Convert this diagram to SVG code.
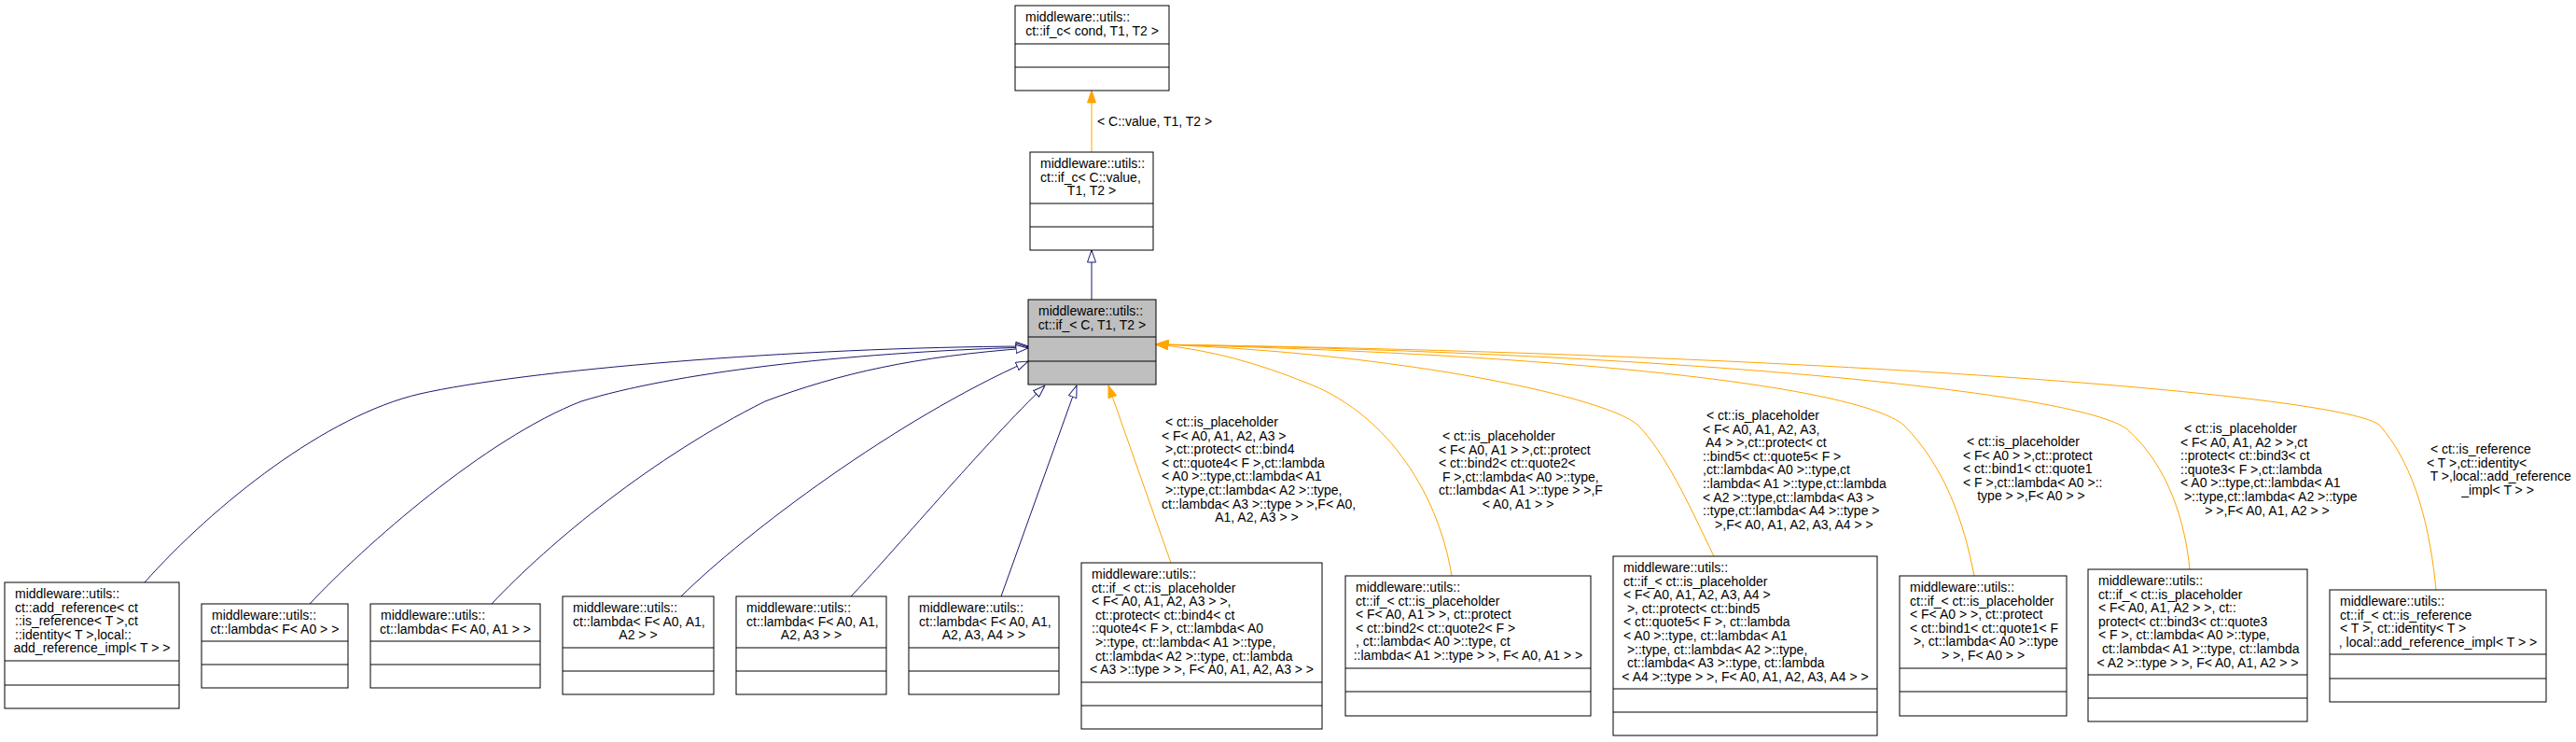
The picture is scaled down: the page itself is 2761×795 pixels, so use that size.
<svg xmlns="http://www.w3.org/2000/svg" width="2761" height="795" viewBox="0 0 2761 795">
<style>
text{font-family:"Liberation Sans",Arial,Helvetica,sans-serif;font-size:14px;fill:#000;white-space:pre}
.m{text-anchor:middle}
.box{fill:#fff;stroke:#000;stroke-width:1}
.cur{fill:#bfbfbf;stroke:#000;stroke-width:1}
.sep{stroke:#000;stroke-width:1}
.inh{fill:none;stroke:#191970;stroke-width:1;marker-end:url(#open)}
.tpl{fill:none;stroke:#ffa500;stroke-width:1;marker-end:url(#filled)}
</style>
<defs>
<marker id="open" viewBox="0 0 14 10" refX="13.5" refY="5" markerWidth="14" markerHeight="10" orient="auto" markerUnits="userSpaceOnUse"><path d="M0.5,0.5 L13.5,5 L0.5,9.5 Z" fill="#fff" stroke="#191970" stroke-width="1"/></marker>
<marker id="filled" viewBox="0 0 14 10" refX="13.5" refY="5" markerWidth="14" markerHeight="10" orient="auto" markerUnits="userSpaceOnUse"><path d="M0.5,0.5 L13.5,5 L0.5,9.5 Z" fill="#ffa500" stroke="#ffa500" stroke-width="1"/></marker>
</defs>
<rect width="2761" height="795" fill="#fff"/>

<g id="connectors">
<g id="e-m-t"><path class="tpl" d="M1170,163 L1170,97"/><text x="1176" y="135">&lt; C::value, T1, T2 &gt;</text></g>
<path id="e-c-m" class="inh" d="M1170,321 L1170,268"/>
<path id="e-n1" class="inh" d="M155,624 C230,540 350,445 450,422 C560,397 850,372 1102,371"/>
<path id="e-n2" class="inh" d="M332,647 C390,585 520,470 623,430 C720,400 900,378 1102,372"/>
<path id="e-n3" class="inh" d="M527,647 C590,580 700,490 820,430 C900,400 980,382 1102,373"/>
<path id="e-n4" class="inh" d="M730,639 C800,570 960,450 1102,387"/>
<path id="e-n5" class="inh" d="M912,639 C950,600 1060,470 1120,413"/>
<path id="e-n6" class="inh" d="M1073,639 L1154,413"/>
<g id="e-n7"><path class="tpl" d="M1255,603 L1188,413"/>
<text x="1245" y="457"> &lt; ct::is_placeholder</text>
<text x="1245" y="471.6">&lt; F&lt; A0, A1, A2, A3 &gt;</text>
<text x="1245" y="486.2"> &gt;,ct::protect&lt; ct::bind4</text>
<text x="1245" y="500.8">&lt; ct::quote4&lt; F &gt;,ct::lambda</text>
<text x="1245" y="515.4">&lt; A0 &gt;::type,ct::lambda&lt; A1</text>
<text x="1245" y="530"> &gt;::type,ct::lambda&lt; A2 &gt;::type,</text>
<text x="1245" y="544.6">ct::lambda&lt; A3 &gt;::type &gt; &gt;,F&lt; A0,</text>
<text class="m" x="1347" y="559.2">A1, A2, A3 &gt; &gt;</text></g>
<g id="e-n8"><path class="tpl" d="M1556,617 C1540,520 1480,440 1400,410 C1350,390 1300,375 1239,369"/>
<text x="1542" y="472"> &lt; ct::is_placeholder</text>
<text x="1542" y="486.6">&lt; F&lt; A0, A1 &gt; &gt;,ct::protect</text>
<text x="1542" y="501.2">&lt; ct::bind2&lt; ct::quote2&lt;</text>
<text x="1542" y="515.8"> F &gt;,ct::lambda&lt; A0 &gt;::type,</text>
<text x="1542" y="530.4">ct::lambda&lt; A1 &gt;::type &gt; &gt;,F</text>
<text class="m" x="1627" y="545">&lt; A0, A1 &gt; &gt;</text></g>
<g id="e-n9"><path class="tpl" d="M1837,596 C1810,540 1785,485 1755,455 C1720,425 1500,378 1239,369"/>
<text x="1825" y="450"> &lt; ct::is_placeholder</text>
<text x="1825" y="464.6">&lt; F&lt; A0, A1, A2, A3,</text>
<text x="1825" y="479.2"> A4 &gt; &gt;,ct::protect&lt; ct</text>
<text x="1825" y="493.8">::bind5&lt; ct::quote5&lt; F &gt;</text>
<text x="1825" y="508.4">,ct::lambda&lt; A0 &gt;::type,ct</text>
<text x="1825" y="523">::lambda&lt; A1 &gt;::type,ct::lambda</text>
<text x="1825" y="537.6">&lt; A2 &gt;::type,ct::lambda&lt; A3 &gt;</text>
<text x="1825" y="552.2">::type,ct::lambda&lt; A4 &gt;::type &gt;</text>
<text class="m" x="1921" y="566.8"> &gt;,F&lt; A0, A1, A2, A3, A4 &gt; &gt;</text></g>
<g id="e-n10"><path class="tpl" d="M2116,617 C2105,560 2085,500 2040,455 C1990,415 1700,380 1239,369"/>
<text x="2104" y="478"> &lt; ct::is_placeholder</text>
<text x="2104" y="492.6">&lt; F&lt; A0 &gt; &gt;,ct::protect</text>
<text x="2104" y="507.2">&lt; ct::bind1&lt; ct::quote1</text>
<text x="2104" y="521.8">&lt; F &gt;,ct::lambda&lt; A0 &gt;::</text>
<text class="m" x="2177" y="536.4">type &gt; &gt;,F&lt; A0 &gt; &gt;</text></g>
<g id="e-n11"><path class="tpl" d="M2347,610 C2342,560 2325,500 2280,460 C2230,420 1800,378 1239,369"/>
<text x="2337" y="464"> &lt; ct::is_placeholder</text>
<text x="2337" y="478.6">&lt; F&lt; A0, A1, A2 &gt; &gt;,ct</text>
<text x="2337" y="493.2">::protect&lt; ct::bind3&lt; ct</text>
<text x="2337" y="507.8">::quote3&lt; F &gt;,ct::lambda</text>
<text x="2337" y="522.4">&lt; A0 &gt;::type,ct::lambda&lt; A1</text>
<text x="2337" y="537"> &gt;::type,ct::lambda&lt; A2 &gt;::type</text>
<text class="m" x="2430" y="551.6">&gt; &gt;,F&lt; A0, A1, A2 &gt; &gt;</text></g>
<g id="e-n12"><path class="tpl" d="M2611,632 C2605,570 2590,500 2550,455 C2500,420 1900,378 1239,369"/>
<text x="2601" y="486"> &lt; ct::is_reference</text>
<text x="2601" y="500.6">&lt; T &gt;,ct::identity&lt;</text>
<text x="2601" y="515.2"> T &gt;,local::add_reference</text>
<text class="m" x="2677" y="529.8">_impl&lt; T &gt; &gt;</text></g>
</g>

<g id="n-if_c-cond">
<rect class="box" x="1088" y="6" width="165" height="91"/>
<line class="sep" x1="1088" y1="47" x2="1253" y2="47"/><line class="sep" x1="1088" y1="72" x2="1253" y2="72"/>
<text x="1099" y="23">middleware::utils::</text>
<text class="m" x="1170.5" y="37.6">ct::if_c&lt; cond, T1, T2 &gt;</text>
</g>
<g id="n-if_c-value">
<rect class="box" x="1104" y="163" width="132" height="105"/>
<line class="sep" x1="1104" y1="218" x2="1236" y2="218"/><line class="sep" x1="1104" y1="243" x2="1236" y2="243"/>
<text x="1115" y="180">middleware::utils::</text>
<text x="1115" y="194.6">ct::if_c&lt; C::value,</text>
<text class="m" x="1170" y="209.2">T1, T2 &gt;</text>
</g>
<g id="n-if">
<rect class="cur" x="1102" y="321" width="137" height="91"/>
<line class="sep" x1="1102" y1="361" x2="1239" y2="361"/><line class="sep" x1="1102" y1="387" x2="1239" y2="387"/>
<text x="1113" y="338">middleware::utils::</text>
<text class="m" x="1170.5" y="352.6">ct::if_&lt; C, T1, T2 &gt;</text>
</g>
<g id="n-add-reference">
<rect class="box" x="5" y="624" width="187" height="135"/>
<line class="sep" x1="5" y1="708" x2="192" y2="708"/><line class="sep" x1="5" y1="734" x2="192" y2="734"/>
<text x="16" y="641">middleware::utils::</text>
<text x="16" y="655.6">ct::add_reference&lt; ct</text>
<text x="16" y="670.2">::is_reference&lt; T &gt;,ct</text>
<text x="16" y="684.8">::identity&lt; T &gt;,local::</text>
<text class="m" x="98.5" y="699.4">add_reference_impl&lt; T &gt; &gt;</text>
</g>
<g id="n-lambda1">
<rect class="box" x="216" y="647" width="157" height="90"/>
<line class="sep" x1="216" y1="687" x2="373" y2="687"/><line class="sep" x1="216" y1="712" x2="373" y2="712"/>
<text x="227" y="664">middleware::utils::</text>
<text class="m" x="294.5" y="678.6">ct::lambda&lt; F&lt; A0 &gt; &gt;</text>
</g>
<g id="n-lambda2">
<rect class="box" x="397" y="647" width="182" height="90"/>
<line class="sep" x1="397" y1="687" x2="579" y2="687"/><line class="sep" x1="397" y1="712" x2="579" y2="712"/>
<text x="408" y="664">middleware::utils::</text>
<text class="m" x="488" y="678.6">ct::lambda&lt; F&lt; A0, A1 &gt; &gt;</text>
</g>
<g id="n-lambda3">
<rect class="box" x="603" y="639" width="162" height="105"/>
<line class="sep" x1="603" y1="694" x2="765" y2="694"/><line class="sep" x1="603" y1="719" x2="765" y2="719"/>
<text x="614" y="656">middleware::utils::</text>
<text x="614" y="670.6">ct::lambda&lt; F&lt; A0, A1,</text>
<text class="m" x="684" y="685.2">A2 &gt; &gt;</text>
</g>
<g id="n-lambda4">
<rect class="box" x="789" y="639" width="161" height="105"/>
<line class="sep" x1="789" y1="694" x2="950" y2="694"/><line class="sep" x1="789" y1="719" x2="950" y2="719"/>
<text x="800" y="656">middleware::utils::</text>
<text x="800" y="670.6">ct::lambda&lt; F&lt; A0, A1,</text>
<text class="m" x="869.5" y="685.2">A2, A3 &gt; &gt;</text>
</g>
<g id="n-lambda5">
<rect class="box" x="974" y="639" width="161" height="105"/>
<line class="sep" x1="974" y1="694" x2="1135" y2="694"/><line class="sep" x1="974" y1="719" x2="1135" y2="719"/>
<text x="985" y="656">middleware::utils::</text>
<text x="985" y="670.6">ct::lambda&lt; F&lt; A0, A1,</text>
<text class="m" x="1054.5" y="685.2">A2, A3, A4 &gt; &gt;</text>
</g>
<g id="n-if-bind4">
<rect class="box" x="1159" y="603" width="258" height="178"/>
<line class="sep" x1="1159" y1="731" x2="1417" y2="731"/><line class="sep" x1="1159" y1="756" x2="1417" y2="756"/>
<text x="1170" y="620">middleware::utils::</text>
<text x="1170" y="634.6">ct::if_&lt; ct::is_placeholder</text>
<text x="1170" y="649.2">&lt; F&lt; A0, A1, A2, A3 &gt; &gt;,</text>
<text x="1170" y="663.8"> ct::protect&lt; ct::bind4&lt; ct</text>
<text x="1170" y="678.4">::quote4&lt; F &gt;, ct::lambda&lt; A0</text>
<text x="1170" y="693"> &gt;::type, ct::lambda&lt; A1 &gt;::type,</text>
<text x="1170" y="707.6"> ct::lambda&lt; A2 &gt;::type, ct::lambda</text>
<text class="m" x="1288" y="722.2">&lt; A3 &gt;::type &gt; &gt;, F&lt; A0, A1, A2, A3 &gt; &gt;</text>
</g>
<g id="n-if-bind2">
<rect class="box" x="1442" y="617" width="263" height="150"/>
<line class="sep" x1="1442" y1="716" x2="1705" y2="716"/><line class="sep" x1="1442" y1="741" x2="1705" y2="741"/>
<text x="1453" y="634">middleware::utils::</text>
<text x="1453" y="648.6">ct::if_&lt; ct::is_placeholder</text>
<text x="1453" y="663.2">&lt; F&lt; A0, A1 &gt; &gt;, ct::protect</text>
<text x="1453" y="677.8">&lt; ct::bind2&lt; ct::quote2&lt; F &gt;</text>
<text x="1453" y="692.4">, ct::lambda&lt; A0 &gt;::type, ct</text>
<text class="m" x="1573.5" y="707">::lambda&lt; A1 &gt;::type &gt; &gt;, F&lt; A0, A1 &gt; &gt;</text>
</g>
<g id="n-if-bind5">
<rect class="box" x="1729" y="596" width="283" height="192"/>
<line class="sep" x1="1729" y1="738" x2="2012" y2="738"/><line class="sep" x1="1729" y1="763" x2="2012" y2="763"/>
<text x="1740" y="613">middleware::utils::</text>
<text x="1740" y="627.6">ct::if_&lt; ct::is_placeholder</text>
<text x="1740" y="642.2">&lt; F&lt; A0, A1, A2, A3, A4 &gt;</text>
<text x="1740" y="656.8"> &gt;, ct::protect&lt; ct::bind5</text>
<text x="1740" y="671.4">&lt; ct::quote5&lt; F &gt;, ct::lambda</text>
<text x="1740" y="686">&lt; A0 &gt;::type, ct::lambda&lt; A1</text>
<text x="1740" y="700.6"> &gt;::type, ct::lambda&lt; A2 &gt;::type,</text>
<text x="1740" y="715.2"> ct::lambda&lt; A3 &gt;::type, ct::lambda</text>
<text class="m" x="1870.5" y="729.8">&lt; A4 &gt;::type &gt; &gt;, F&lt; A0, A1, A2, A3, A4 &gt; &gt;</text>
</g>
<g id="n-if-bind1">
<rect class="box" x="2036" y="617" width="179" height="150"/>
<line class="sep" x1="2036" y1="716" x2="2215" y2="716"/><line class="sep" x1="2036" y1="741" x2="2215" y2="741"/>
<text x="2047" y="634">middleware::utils::</text>
<text x="2047" y="648.6">ct::if_&lt; ct::is_placeholder</text>
<text x="2047" y="663.2">&lt; F&lt; A0 &gt; &gt;, ct::protect</text>
<text x="2047" y="677.8">&lt; ct::bind1&lt; ct::quote1&lt; F</text>
<text x="2047" y="692.4"> &gt;, ct::lambda&lt; A0 &gt;::type</text>
<text class="m" x="2125.5" y="707">&gt; &gt;, F&lt; A0 &gt; &gt;</text>
</g>
<g id="n-if-bind3">
<rect class="box" x="2238" y="610" width="235" height="163"/>
<line class="sep" x1="2238" y1="723" x2="2473" y2="723"/><line class="sep" x1="2238" y1="748" x2="2473" y2="748"/>
<text x="2249" y="627">middleware::utils::</text>
<text x="2249" y="641.6">ct::if_&lt; ct::is_placeholder</text>
<text x="2249" y="656.2">&lt; F&lt; A0, A1, A2 &gt; &gt;, ct::</text>
<text x="2249" y="670.8">protect&lt; ct::bind3&lt; ct::quote3</text>
<text x="2249" y="685.4">&lt; F &gt;, ct::lambda&lt; A0 &gt;::type,</text>
<text x="2249" y="700"> ct::lambda&lt; A1 &gt;::type, ct::lambda</text>
<text class="m" x="2355.5" y="714.6">&lt; A2 &gt;::type &gt; &gt;, F&lt; A0, A1, A2 &gt; &gt;</text>
</g>
<g id="n-if-is-reference">
<rect class="box" x="2497" y="632" width="232" height="120"/>
<line class="sep" x1="2497" y1="701" x2="2729" y2="701"/><line class="sep" x1="2497" y1="727" x2="2729" y2="727"/>
<text x="2508" y="649">middleware::utils::</text>
<text x="2508" y="663.6">ct::if_&lt; ct::is_reference</text>
<text x="2508" y="678.2">&lt; T &gt;, ct::identity&lt; T &gt;</text>
<text class="m" x="2613" y="692.8">, local::add_reference_impl&lt; T &gt; &gt;</text>
</g>
</svg>
